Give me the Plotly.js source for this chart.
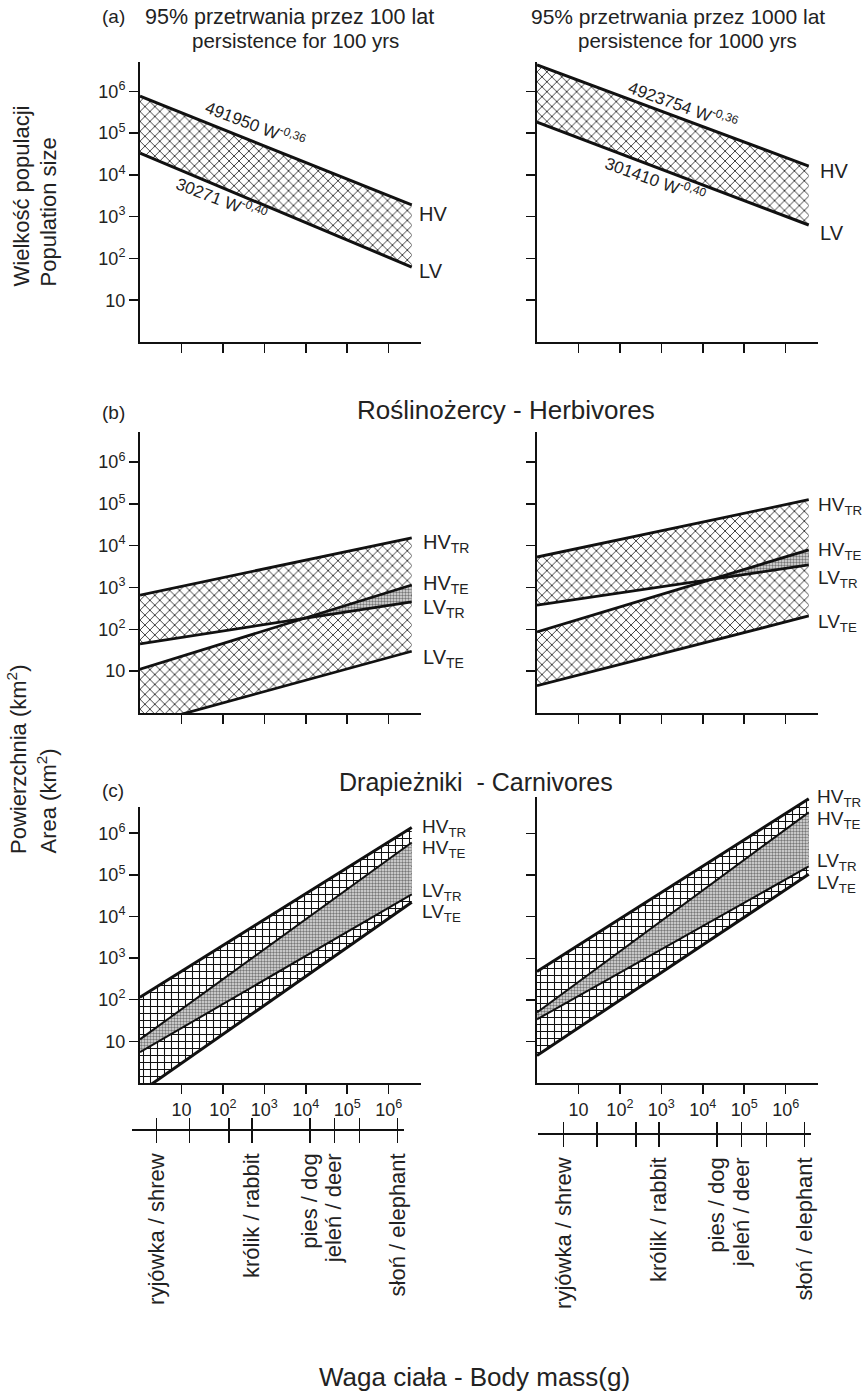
<!DOCTYPE html>
<html><head><meta charset="utf-8">
<script src="https://cdn.plot.ly/plotly-3.0.1.min.js"></script>
<style>html,body{margin:0;padding:0;background:#fff}</style>
</head><body>
<div id="chart" style="width:866px;height:1395px"></div>
<script>
// ---------- data ----------
const massRange = [1, 3.6e6];                 // body mass (g) at both ends of every line
const xTickVals = [10, 1e2, 1e3, 1e4, 1e5, 1e6];
const xTickText = ['10', '10<sup>2</sup>', '10<sup>3</sup>', '10<sup>4</sup>', '10<sup>5</sup>', '10<sup>6</sup>'];
const yTickVals = [10, 1e2, 1e3, 1e4, 1e5, 1e6];
const yTickText = ['10', '10<sup>2</sup>', '10<sup>3</sup>', '10<sup>4</sup>', '10<sup>5</sup>', '10<sup>6</sup>'];

// (a) population size, persistence 100 / 1000 yrs
const pop100_HV = [760000, 1900];
const pop100_LV = [33000, 62];
const pop1000_HV = [4270000, 16200];
const pop1000_LV = [182000, 631];

// (b) herbivores, area (km2)
const herb100_HVTR = [660, 15500];
const herb100_LVTR = [45, 457];
const herb100_HVTE = [11.2, 1150];
const herb100_LVTE = [0.5, 30];
const herb1000_HVTR = [5370, 126000];
const herb1000_LVTR = [380, 3470];
const herb1000_HVTE = [87, 7940];
const herb1000_LVTE = [4.5, 209];

// (c) carnivores, area (km2)
const carn100_HVTR = [115, 1380000];
const carn100_HVTE = [11.2, 600000];
const carn100_LVTR = [5.5, 33900];
const carn100_LVTE = [0.6, 21900];
const carn1000_HVTR = [479, 6900000];
const carn1000_HVTE = [50, 3240000];
const carn1000_LVTR = [34, 162000];
const carn1000_LVTE = [4.6, 105000];

// animal scale
const animalMass = [3.3, 21, 186, 660, 16600, 64600, 263000, 2140000];
const animalNames = ['ryjówka / shrew', '', '', 'królik / rabbit', 'pies / dog', 'jeleń / deer', '', 'słoń / elephant'];

const equations = ['491950 W<sup>-0,36</sup>', '30271 W<sup>-0,40</sup>', '4923754 W<sup>-0,36</sup>', '301410 W<sup>-0,40</sup>'];

// ---------- drawing ----------
const W = 866, H = 1395;
const FONT = 'Liberation Sans, Arial, Helvetica, sans-serif';
const INK = '#111';
const px = x => x / W;
const py = y => 1 - y / H;

const hatchX = {shape: 'x', size: 7, solidity: 0.2, fgcolor: '#000', bgcolor: 'rgba(0,0,0,0)'};
const hatchPlus = {shape: '+', size: 7, solidity: 0.28, fgcolor: '#111', bgcolor: 'rgba(255,255,255,1)'};
const stipple = {shape: '.', size: 3, solidity: 0.5, fgcolor: '#777', bgcolor: '#e2e2e2'};

const traces = [];
function edge(ys, n) {
  return {type: 'scatter', mode: 'lines', x: massRange, y: ys, xaxis: 'x' + n, yaxis: 'y' + n,
          line: {width: 0, color: INK}, hoverinfo: 'skip', showlegend: false};
}
function band(lower, upper, n, pat) {
  traces.push(edge(lower, n));
  const t = edge(upper, n);
  t.fill = 'tonexty'; t.fillpattern = pat; t.fillcolor = 'rgba(0,0,0,0)';
  traces.push(t);
}
function stroke(ys, n, w) {
  const t = edge(ys, n); t.line = {width: w, color: INK}; traces.push(t);
}
function overlap(a, b, n, pat) {
  // a rises above b to the right; fill from their crossing to the right end
  const lx0 = Math.log10(massRange[0]), lx1 = Math.log10(massRange[1]);
  const a0 = Math.log10(a[0]), a1 = Math.log10(a[1]), b0 = Math.log10(b[0]), b1 = Math.log10(b[1]);
  const t = (b0 - a0) / ((a1 - a0) - (b1 - b0));
  const xi = Math.pow(10, lx0 + t * (lx1 - lx0));
  const yi = Math.pow(10, a0 + t * (a1 - a0));
  traces.push({type: 'scatter', mode: 'lines', x: [xi, massRange[1], massRange[1], xi], y: [yi, a[1], b[1], yi],
    xaxis: 'x' + n, yaxis: 'y' + n, fill: 'toself', fillpattern: pat, fillcolor: 'rgba(0,0,0,0)',
    line: {width: 0}, hoverinfo: 'skip', showlegend: false});
}

// (a)
band(pop100_LV, pop100_HV, 1, hatchX);
stroke(pop100_HV, 1, 3); stroke(pop100_LV, 1, 3);
band(pop1000_LV, pop1000_HV, 2, hatchX);
stroke(pop1000_HV, 2, 3); stroke(pop1000_LV, 2, 3);
// (b)
[[3, herb100_HVTR, herb100_LVTR, herb100_HVTE, herb100_LVTE],
 [4, herb1000_HVTR, herb1000_LVTR, herb1000_HVTE, herb1000_LVTE]].forEach(([n, htr, ltr, hte, lte]) => {
  band(ltr, htr, n, hatchX);
  band(lte, hte, n, hatchX);
  overlap(hte, ltr, n, stipple);
  [htr, ltr, hte, lte].forEach(s => stroke(s, n, 2.8));
});
// (c)
[[5, carn100_HVTR, carn100_HVTE, carn100_LVTR, carn100_LVTE],
 [6, carn1000_HVTR, carn1000_HVTE, carn1000_LVTR, carn1000_LVTE]].forEach(([n, htr, hte, ltr, lte]) => {
  band(lte, htr, n, hatchPlus);
  band(ltr, hte, n, stipple);
  stroke(htr, n, 3); stroke(lte, n, 3);
  stroke(hte, n, 2); stroke(ltr, n, 2);
});
// animal scale axes (empty carriers)
[['x7', 'y5'], ['x8', 'y6'], ['x9', 'y5'], ['x10', 'y6']].forEach(([xa, ya]) =>
  traces.push({type: 'scatter', mode: 'lines', x: [], y: [], xaxis: xa, yaxis: ya, hoverinfo: 'skip', showlegend: false}));

// ---------- layout ----------
const colX = [[140, 421], [537, 818]];
const rows = [
  {top: [62, 62], bottom: 342, r: [6.70, 6.70]},
  {top: [432, 432], bottom: 713, r: [6.72, 6.72]},
  {top: [807, 797], bottom: 1083, r: [6.63, 6.88]}
];
const layout = {
  width: W, height: H, margin: {l: 0, r: 0, t: 0, b: 0},
  paper_bgcolor: '#fff', plot_bgcolor: 'rgba(0,0,0,0)', showlegend: false,
  font: {family: FONT, color: INK, size: 18},
  annotations: []
};
for (let row = 0; row < 3; row++) {
  for (let col = 0; col < 2; col++) {
    const n = row * 2 + col + 1;
    const R = rows[row];
    layout['xaxis' + n] = {
      type: 'log', range: [0, 6.78], domain: [px(colX[col][0]), px(colX[col][1])], anchor: 'y' + n,
      showline: true, linecolor: INK, linewidth: 2, ticks: 'outside', ticklen: 9, tickwidth: 1.5, tickcolor: INK,
      tickmode: 'array', tickvals: xTickVals, ticktext: xTickText, showticklabels: row === 2,
      tickfont: {size: 18, family: FONT, color: '#222'}, ticklabelstandoff: 0,
      showgrid: false, zeroline: false, fixedrange: true
    };
    layout['yaxis' + n] = {
      type: 'log', range: [0, R.r[col]], domain: [py(R.bottom), py(R.top[col])], anchor: 'x' + n,
      showline: true, linecolor: INK, linewidth: 2, ticks: 'outside', ticklen: 9, tickwidth: 1.5, tickcolor: INK,
      tickmode: 'array', tickvals: yTickVals, ticktext: yTickText, showticklabels: col === 0,
      tickfont: {size: 18, family: FONT, color: '#222'},
      showgrid: false, zeroline: false, fixedrange: true
    };
  }
}
// animal axes (own domain and range, slightly offset as in the drawing)
const animalAx = [{dom: [132, 404], range: [-0.07, 6.49]}, {dom: [538, 811], range: [-0.10, 6.49]}];
[[7, 0, 1129], [8, 1, 1133]].forEach(([k, col, y]) => {
  layout['xaxis' + k] = {
    type: 'log', range: animalAx[col].range, anchor: 'free', position: py(y),
    domain: [px(animalAx[col].dom[0]), px(animalAx[col].dom[1])],
    showline: true, linecolor: INK, linewidth: 1.5, ticks: 'outside', ticklen: 12, tickwidth: 1.5, tickcolor: INK,
    tickmode: 'array', tickvals: animalMass, ticktext: animalNames, tickangle: -90,
    tickfont: {size: 22, family: FONT, color: '#222'}, ticklabelstandoff: 2,
    showgrid: false, zeroline: false, fixedrange: true
  };
});
[[9, 0, 1129], [10, 1, 1133]].forEach(([k, col, y]) => {
  layout['xaxis' + k] = {
    type: 'log', range: animalAx[col].range, anchor: 'free', position: py(y),
    domain: [px(animalAx[col].dom[0]), px(animalAx[col].dom[1])],
    showline: false, ticks: 'inside', ticklen: 11, tickwidth: 1.5, tickcolor: INK,
    tickmode: 'array', tickvals: animalMass, showticklabels: false,
    showgrid: false, zeroline: false, fixedrange: true
  };
});

function txt(text, x, y, size, opts) {
  layout.annotations.push(Object.assign({
    text: text, xref: 'paper', yref: 'paper', x: px(x), y: py(y), xanchor: 'left', yanchor: 'middle',
    showarrow: false, font: {family: FONT, size: size, color: '#222'}
  }, opts || {}));
}
// titles
txt('(a)', 100, 17, 19);
txt('95% przetrwania przez 100 lat', 143, 17, 21.5);
txt('persistence for 100 yrs', 190, 41, 20.5);
txt('95% przetrwania przez 1000 lat', 529, 17, 21);
txt('persistence for 1000 yrs', 576, 41, 20.5);
txt('(b)', 100, 412, 19);
txt('Roślinożercy - Herbivores', 355, 410, 26);
txt('(c)', 100, 790, 19);
txt('Drapieżniki  - Carnivores', 337, 782, 25);
txt('Waga ciała - Body mass(g)', 317, 1377, 26);
// y titles
txt('Wielkość populacji', 21, 289, 22, {textangle: -90, xanchor: 'center', yanchor: 'bottom'});
txt('Population size', 48, 289, 22, {textangle: -90, xanchor: 'center', yanchor: 'bottom'});
txt('Powierzchnia (km<sup>2</sup>)', 17, 856, 22, {textangle: -90, xanchor: 'center', yanchor: 'bottom'});
txt('Area (km<sup>2</sup>)', 47, 856, 22, {textangle: -90, xanchor: 'center', yanchor: 'bottom'});
// equations
txt(equations[0], 255, 124, 17, {textangle: 21, xanchor: 'center'});
txt(equations[1], 222, 199, 17, {textangle: 21, xanchor: 'center'});
txt(equations[2], 683, 105, 17, {textangle: 20, xanchor: 'center'});
txt(equations[3], 655, 179, 17, {textangle: 20, xanchor: 'center'});
// line labels
const lab = (t, x, y, s) => txt(t, x, y, s || 20, {yshift: -3});
lab('HV', 417, 211); lab('LV', 417, 268);
lab('HV', 818, 168); lab('LV', 818, 230);
const TR = '<sub>TR</sub>', TE = '<sub>TE</sub>';
lab('HV' + TR, 421, 540); lab('HV' + TE, 421, 581); lab('LV' + TR, 421, 605); lab('LV' + TE, 421, 655);
lab('HV' + TR, 816, 503, 19); lab('HV' + TE, 816, 548, 19); lab('LV' + TR, 816, 576, 19); lab('LV' + TE, 816, 620, 19);
lab('HV' + TR, 420, 825, 19); lab('HV' + TE, 420, 846, 19); lab('LV' + TR, 420, 889, 19); lab('LV' + TE, 420, 910, 19);
lab('HV' + TR, 815, 795, 19); lab('HV' + TE, 815, 817, 19); lab('LV' + TR, 815, 859, 19); lab('LV' + TE, 815, 881, 19);

Plotly.newPlot('chart', traces, layout, {staticPlot: true, displayModeBar: false});
</script>
</body></html>
